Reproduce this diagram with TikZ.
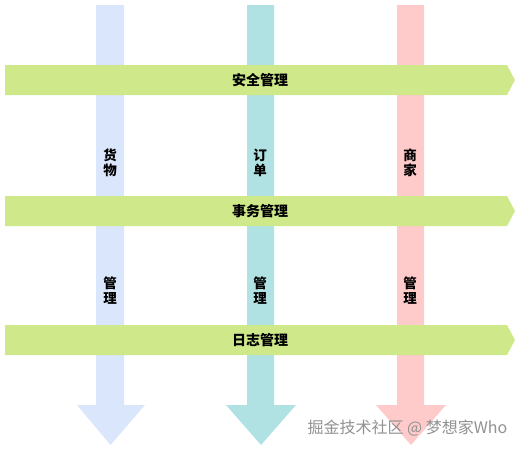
\documentclass[tikz,border=0pt]{standalone}
\usepackage{fontspec}
\setmainfont{Noto Sans CJK SC}
\definecolor{bandc}{RGB}{207,233,138}
\definecolor{blu}{RGB}{218,230,251}
\definecolor{tea}{RGB}{176,226,227}
\definecolor{pnk}{RGB}{255,202,202}
\definecolor{wm}{RGB}{145,145,145}
\tikzset{
  lbl/.style={font=\fontsize{13.5}{15}\selectfont\bfseries, text=black, align=center, inner sep=0pt},
  blbl/.style={font=\fontsize{14}{15}\selectfont\bfseries, text=black, inner sep=0pt},
}
\begin{document}
\begin{tikzpicture}[x=1pt,y=-1pt]
\useasboundingbox (0,0) rectangle (521,451);
% vertical arrows
\fill[blu] (96,5) -- (124,5) -- (124,405) -- (145,405) -- (110.5,445) -- (77,405) -- (96,405) -- cycle;
\fill[tea] (247,5) -- (274,5) -- (274,405) -- (296,405) -- (261,445) -- (226,405) -- (247,405) -- cycle;
\fill[pnk] (397,5) -- (424,5) -- (424,405) -- (446,405) -- (411,445) -- (376,405) -- (397,405) -- cycle;
% bands
\foreach \y in {65,196,325}{
  \fill[bandc] (5,\y) -- (507,\y) -- (515,\y+15) -- (507,\y+30) -- (5,\y+30) -- cycle;
}
\node[blbl] (b1) at (260,80) {安全管理};
\node[blbl] (b2) at (260,211) {事务管理};
\node[blbl] (b3) at (260,340) {日志管理};
\node[lbl] (v1a) at (110,163) {货\\物};
\node[lbl] (v2a) at (260,163) {订\\单};
\node[lbl] (v3a) at (410,163) {商\\家};
\node[lbl] (v1b) at (110,291) {管\\理};
\node[lbl] (v2b) at (260,291) {管\\理};
\node[lbl] (v3b) at (410,291) {管\\理};
\node[font=\fontsize{16}{18}\selectfont, text=wm, inner sep=0pt] (wmk) at (407.5,428.5) {掘金技术社区 @ 梦想家Who};
\end{tikzpicture}
\end{document}
